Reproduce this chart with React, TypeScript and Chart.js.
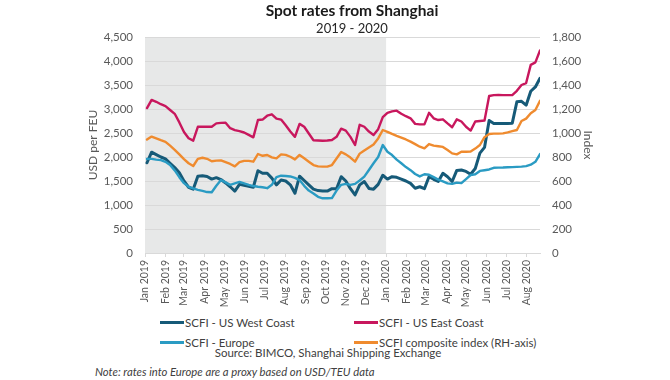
import React, { useEffect, useRef } from "react";
import { Chart, registerables } from "chart.js";

Chart.register(...registerables);

const weeks = [
  "2019-01-04", "2019-01-11", "2019-01-18", "2019-01-25",
  "2019-02-01", "2019-02-08", "2019-02-15", "2019-02-22",
  "2019-03-01", "2019-03-08", "2019-03-15", "2019-03-22", "2019-03-29",
  "2019-04-05", "2019-04-12", "2019-04-19", "2019-04-26",
  "2019-05-03", "2019-05-10", "2019-05-17", "2019-05-24", "2019-05-31",
  "2019-06-07", "2019-06-14", "2019-06-21", "2019-06-28",
  "2019-07-05", "2019-07-12", "2019-07-19", "2019-07-26",
  "2019-08-02", "2019-08-09", "2019-08-16", "2019-08-23", "2019-08-30",
  "2019-09-06", "2019-09-13", "2019-09-20", "2019-09-27",
  "2019-10-04", "2019-10-11", "2019-10-18", "2019-10-25",
  "2019-11-01", "2019-11-08", "2019-11-15", "2019-11-22", "2019-11-29",
  "2019-12-06", "2019-12-13", "2019-12-20", "2019-12-27",
  "2020-01-03", "2020-01-10", "2020-01-17", "2020-01-24", "2020-01-31",
  "2020-02-07", "2020-02-14", "2020-02-21", "2020-02-28",
  "2020-03-06", "2020-03-13", "2020-03-20", "2020-03-27",
  "2020-04-03", "2020-04-10", "2020-04-17", "2020-04-24",
  "2020-05-01", "2020-05-08", "2020-05-15", "2020-05-22", "2020-05-29",
  "2020-06-05", "2020-06-12", "2020-06-19", "2020-06-26",
  "2020-07-03", "2020-07-10", "2020-07-17", "2020-07-24", "2020-07-31",
  "2020-08-07", "2020-08-14", "2020-08-21",
];

const westCoast = [
  1880, 2100, 2050, 2000, 1960, 1870, 1780, 1670, 1500, 1370,
  1330, 1600, 1610, 1595, 1540, 1570, 1530, 1460, 1380, 1290,
  1430, 1410, 1390, 1370, 1715, 1660, 1660, 1560, 1420, 1520,
  1500, 1420, 1245, 1600, 1510, 1420, 1330, 1300, 1290, 1290,
  1340, 1340, 1590, 1500, 1340, 1210, 1420, 1490, 1345, 1330,
  1430, 1620, 1540, 1590, 1576, 1540, 1500, 1450, 1350, 1380,
  1340, 1590, 1535, 1490, 1660, 1590, 1490, 1720, 1730, 1700,
  1640, 1760, 2080, 2200, 2760, 2700, 2700, 2700, 2700, 2705,
  3150, 3160, 3080, 3370, 3460, 3640,
];

const eastCoast = [
  3020, 3190, 3150, 3100, 3060, 2980, 2900, 2720, 2520, 2390,
  2340, 2630, 2630, 2630, 2630, 2700, 2710, 2715, 2600, 2560,
  2540, 2510, 2460, 2410, 2770, 2780, 2860, 2890, 2800, 2780,
  2660, 2530, 2420, 2690, 2630, 2490, 2350, 2345, 2340, 2345,
  2355, 2420, 2590, 2550, 2420, 2250, 2670, 2630, 2530, 2460,
  2580, 2830, 2920, 2950, 2965, 2900, 2850, 2806, 2690, 2680,
  2680, 2920, 2806, 2770, 2785, 2700, 2620, 2785, 2740, 2630,
  2550, 2740, 2750, 2760, 3270, 3290, 3295, 3290, 3290, 3290,
  3380, 3500, 3540, 3920, 3970, 4220,
];

const europe = [
  1960, 1960, 1945, 1935, 1900, 1835, 1720, 1580, 1455, 1380,
  1345, 1315, 1295, 1270, 1265, 1400, 1520, 1470, 1420, 1450,
  1480, 1450, 1420, 1395, 1380, 1370, 1350, 1420, 1580, 1610,
  1605, 1595, 1565, 1520, 1400, 1300, 1240, 1170, 1140, 1140,
  1145, 1300, 1420, 1440, 1420, 1440, 1510, 1590, 1730, 1870,
  2000, 2250, 2110, 2040, 1945, 1870, 1790, 1725, 1645, 1595,
  1640, 1630, 1580, 1530, 1490, 1450, 1440, 1465, 1455, 1540,
  1625, 1640, 1710, 1725, 1740, 1775, 1778, 1780, 1785, 1790,
  1795, 1800, 1810, 1840, 1900, 2060,
];

const composite = [
  945, 970, 955, 940, 926, 895, 860, 822, 782, 748,
  725, 785, 794, 785, 765, 770, 772, 757, 742, 722,
  757, 768, 768, 761, 825, 810, 817, 797, 789, 822,
  818, 802, 780, 817, 789, 761, 733, 722, 720, 720,
  733, 787, 842, 822, 795, 761, 828, 855, 880, 905,
  955, 1025, 1010, 992, 976, 962, 946, 928, 907, 886,
  872, 908, 895, 890, 884, 858, 830, 822, 844, 844,
  846, 870, 900, 965, 992, 995, 995, 997, 1005, 1015,
  1025, 1100, 1120, 1165, 1192, 1269,
];

const monthTicks = [
  "2019-01-01", "2019-02-01", "2019-03-01", "2019-04-01", "2019-05-01",
  "2019-06-01", "2019-07-01", "2019-08-01", "2019-09-01", "2019-10-01",
  "2019-11-01", "2019-12-01", "2020-01-01", "2020-02-01", "2020-03-01",
  "2020-04-01", "2020-05-01", "2020-06-01", "2020-07-01", "2020-08-01",
];

const monthLabels = [
  "Jan 2019", "Feb 2019", "Mar 2019", "Apr 2019", "May 2019", "Jun 2019",
  "Jul 2019", "Aug 2019", "Sep 2019", "Oct 2019", "Nov 2019", "Dec 2019",
  "Jan 2020", "Feb 2020", "Mar 2020", "Apr 2020", "May 2020", "Jun 2020",
  "Jul 2020", "Aug 2020",
];

const shadedFrom = "2019-01-01";
const shadedTo = "2020-01-01";

const seriesNames = [
  "SCFI - US West Coast",
  "SCFI - US East Coast",
  "SCFI - Europe",
  "SCFI composite index (RH-axis)",
];
const seriesColors = ["#165a78", "#c8175d", "#2a9bc3", "#ef8b2f"];

const FONT = "Lato, 'Open Sans', sans-serif";
const epoch = Date.parse("2019-01-01");
const dayOf = (d: string) => (Date.parse(d) - epoch) / 86400000;

const shadePlugin = {
  id: "shadeYear",
  beforeDraw(chart: any) {
    const { ctx, chartArea, scales } = chart;
    const x0 = scales.x.getPixelForValue(dayOf(shadedFrom));
    const x1 = scales.x.getPixelForValue(dayOf(shadedTo));
    ctx.save();
    ctx.fillStyle = "#e7e8e8";
    ctx.fillRect(x0, chartArea.top, x1 - x0, chartArea.bottom - chartArea.top);
    ctx.restore();
  },
};

function ChartCanvas() {
  const ref = useRef<HTMLCanvasElement | null>(null);
  useEffect(() => {
    if (!ref.current) return;
    const pts = (arr: number[]) => weeks.map((d, i) => ({ x: dayOf(d), y: arr[i] }));
    const tickFont = { family: FONT, size: 11.5 };
    const chart = new Chart(ref.current, {
      type: "line",
      data: {
        datasets: [
          { label: seriesNames[2], data: pts(europe), borderColor: seriesColors[2], borderWidth: 2.4, yAxisID: "y" },
          { label: seriesNames[3], data: pts(composite), borderColor: seriesColors[3], borderWidth: 2.4, yAxisID: "y1" },
          { label: seriesNames[1], data: pts(eastCoast), borderColor: seriesColors[1], borderWidth: 2.4, yAxisID: "y" },
          { label: seriesNames[0], data: pts(westCoast), borderColor: seriesColors[0], borderWidth: 3, yAxisID: "y" },
        ],
      },
      options: {
        responsive: false,
        animation: false,
        devicePixelRatio: 1,
        elements: { point: { radius: 0 }, line: { tension: 0, borderJoinStyle: "round", borderCapStyle: "round" } },
        layout: { padding: { left: 86, right: 75, top: 37, bottom: 0 } },
        plugins: { legend: { display: false }, tooltip: { enabled: false }, title: { display: false } },
        scales: {
          x: {
            type: "linear",
            min: dayOf(monthTicks[0]),
            max: dayOf(weeks[weeks.length - 1]),
            afterBuildTicks: (scale: any) => {
              scale.ticks = monthTicks.map((d) => ({ value: dayOf(d) }));
            },
            afterFit: (scale: any) => {
              scale.height = 310 - 253;
            },
            grid: { display: true, drawOnChartArea: false, drawTicks: true, tickLength: 4, color: "#d9d9d9" },
            border: { display: true, color: "#d9d9d9" },
            ticks: {
              autoSkip: false,
              minRotation: 90,
              maxRotation: 90,
              padding: 3,
              color: "#595959",
              font: { family: FONT, size: 10.5 },
              callback: (_v: any, i: number) => monthLabels[i],
            },
          },
          y: {
            position: "left",
            min: 0,
            max: 4500,
            afterFit: (scale: any) => {
              scale.width = 145 - 86;
            },
            grid: { color: "#d9d9d9", drawTicks: false },
            border: { display: false },
            ticks: {
              stepSize: 500,
              padding: 12,
              color: "#595959",
              font: tickFont,
              callback: (v: any) => Number(v).toLocaleString("en-US"),
            },
            title: { display: true, text: "USD per FEU", color: "#595959", font: { family: FONT, size: 12 }, padding: 0 },
          },
          y1: {
            position: "right",
            min: 0,
            max: 1800,
            afterFit: (scale: any) => {
              scale.width = 670 - 75 - 540;
            },
            grid: { display: false, drawTicks: false },
            border: { display: false },
            ticks: {
              stepSize: 200,
              padding: 12,
              color: "#595959",
              font: tickFont,
              callback: (v: any) => Number(v).toLocaleString("en-US"),
            },
            title: { display: true, text: "Index", color: "#595959", font: { family: FONT, size: 12 }, padding: 0 },
          },
        },
      },
      plugins: [shadePlugin],
    } as any);
    return () => chart.destroy();
  }, []);
  return <canvas ref={ref} width={670} height={310} style={{ position: "absolute", left: 0, top: 0, width: 670, height: 310 }} />;
}

function LegendItem({ idx, left, top }: { idx: number; left: number; top: number }) {
  return (
    <div style={{ position: "absolute", left, top, height: 16, display: "flex", alignItems: "center", whiteSpace: "nowrap" }}>
      <span style={{ display: "inline-block", width: 24, height: 3, background: seriesColors[idx], marginRight: 1 }} />
      <span style={{ fontSize: 11.5, color: "#404040" }}>{seriesNames[idx]}</span>
    </div>
  );
}

export default function App() {
  return (
    <div style={{ position: "absolute", left: 0, top: 0, width: 670, height: 380, background: "#fff", fontFamily: FONT, overflow: "hidden" }}>
      <ChartCanvas />
      <div style={{ position: "absolute", left: 0, top: 1, width: 704, textAlign: "center", fontWeight: 700, fontSize: 15.5, lineHeight: "18px", color: "#1a1a1a" }}>
        Spot rates from Shanghai
      </div>
      <div style={{ position: "absolute", left: 0, top: 20, width: 704, textAlign: "center", fontSize: 13, lineHeight: "16px", color: "#262626" }}>
        2019 - 2020
      </div>
      <LegendItem idx={0} left={160} top={314} />
      <LegendItem idx={1} left={354} top={314} />
      <LegendItem idx={2} left={160} top={334} />
      <LegendItem idx={3} left={354} top={334} />
      <div style={{ position: "absolute", left: 0, top: 345, width: 656, textAlign: "center", fontSize: 11.5, lineHeight: "16px", color: "#404040" }}>
        Source: BIMCO, Shanghai Shipping Exchange
      </div>
      <div style={{ position: "absolute", left: 95, top: 365, fontSize: 11.3, fontStyle: "italic", lineHeight: "14px", color: "#404040", whiteSpace: "nowrap" }}>
        Note: rates into Europe are a proxy based on USD/TEU data
      </div>
    </div>
  );
}
